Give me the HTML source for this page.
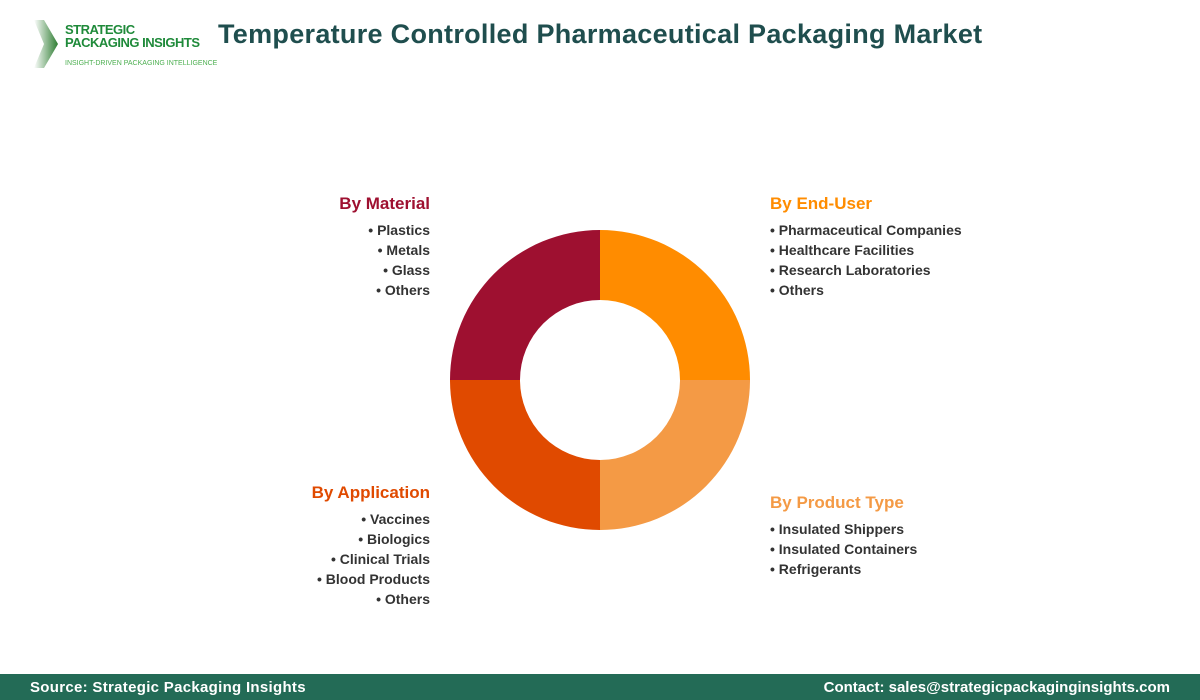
<!DOCTYPE html>
<html><head><meta charset="utf-8"><style>
body{margin:0;width:1200px;height:700px;background:#fff;position:relative;overflow:hidden;font-family:"Liberation Sans",sans-serif}
.t{position:absolute;white-space:nowrap}
.h{font-size:17px;font-weight:bold}
.li{font-size:14px;color:#333;line-height:20px;font-weight:bold}
.r{text-align:right}
</style></head><body>
<svg class="t" style="left:30px;top:18px" width="30" height="52"><defs><linearGradient id="g" x1="0" x2="1"><stop offset="0" stop-color="#fff"/><stop offset="1" stop-color="#2e7d32"/></linearGradient></defs><polygon points="4,2 14,2 28,26 14,50 4,50 14,26" fill="url(#g)"/></svg>
<div class="t" style="left:65px;top:23px;font-size:13px;font-weight:bold;color:#1f8a3a;line-height:13px;letter-spacing:-0.5px">STRATEGIC<br>PACKAGING INSIGHTS</div>
<div class="t" style="left:65px;top:60px;font-size:7px;color:#4caf50">INSIGHT-DRIVEN PACKAGING INTELLIGENCE</div>
<div class="t" style="left:218px;top:19px;font-size:27px;font-weight:bold;color:#1f4e4e;letter-spacing:0.3px">Temperature Controlled Pharmaceutical Packaging Market</div>
<svg class="t" style="left:0;top:0" width="1200" height="700">
<path d="M600 230 A150 150 0 0 1 750 380 L680 380 A80 80 0 0 0 600 300Z" fill="#ff8c00"/>
<path d="M750 380 A150 150 0 0 1 600 530 L600 460 A80 80 0 0 0 680 380Z" fill="#f49a45"/>
<path d="M600 530 A150 150 0 0 1 450 380 L520 380 A80 80 0 0 0 600 460Z" fill="#e04a00"/>
<path d="M450 380 A150 150 0 0 1 600 230 L600 300 A80 80 0 0 0 520 380Z" fill="#9e1030"/>
</svg>
<div class="t h r" style="right:770px;top:194px;color:#9e1030">By Material</div>
<div class="t li r" style="right:770px;top:220px">• Plastics<br>• Metals<br>• Glass<br>• Others</div>
<div class="t h" style="left:770px;top:194px;color:#ff8c00">By End-User</div>
<div class="t li" style="left:770px;top:220px">• Pharmaceutical Companies<br>• Healthcare Facilities<br>• Research Laboratories<br>• Others</div>
<div class="t h r" style="right:770px;top:483px;color:#e04a00">By Application</div>
<div class="t li r" style="right:770px;top:509px">• Vaccines<br>• Biologics<br>• Clinical Trials<br>• Blood Products<br>• Others</div>
<div class="t h" style="left:770px;top:493px;color:#f49a45">By Product Type</div>
<div class="t li" style="left:770px;top:519px">• Insulated Shippers<br>• Insulated Containers<br>• Refrigerants</div>
<div class="t" style="left:0;top:674px;width:1200px;height:26px;background:#236b56"></div>
<div class="t" style="left:30px;top:679px;color:#fff;font-size:15px;font-weight:bold;letter-spacing:0.3px">Source: Strategic Packaging Insights</div>
<div class="t" style="right:30px;top:679px;color:#fff;font-size:15px;font-weight:bold">Contact: sales@strategicpackaginginsights.com</div>
</body></html>
